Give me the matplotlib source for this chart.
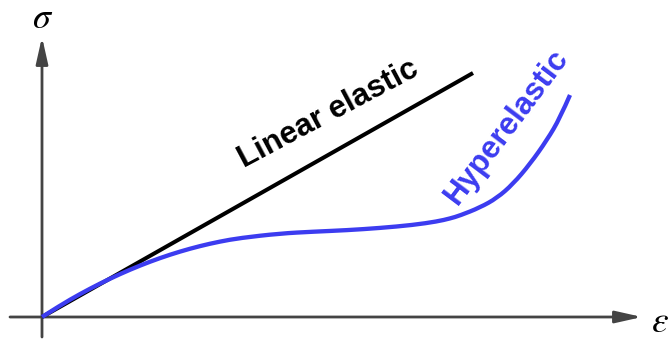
import matplotlib
matplotlib.use("Agg")
import matplotlib.pyplot as plt
from matplotlib.path import Path
from matplotlib.patches import PathPatch

# strain / stress values (arbitrary units)
linear_strain = [0, 431]
linear_stress = [0, 244]

hyper_strain = [0, 18, 38, 58, 78, 98, 118, 138, 158, 178, 198, 238, 271, 305,
                338, 371, 395, 408, 418, 438, 455, 471, 488, 505, 518, 528]
hyper_stress = [0, 11.5, 23, 33.5, 43, 51.5, 59, 65.5, 71, 75.5, 79, 83.5, 85.3, 86.8,
                89, 92, 95.5, 98.5, 101.5, 109.5, 119, 133, 153, 177, 199, 222]

AXIS = "#444444"
BLUE = "#3c3cf0"

plt.rcParams["mathtext.fontset"] = "stix"


def smooth_path(xs, ys):
    # quadratic bezier through midpoints, the read points act as control points
    pts = list(zip(xs, ys))
    verts = [pts[0]]
    codes = [Path.MOVETO]
    for i in range(1, len(pts) - 1):
        mid = ((pts[i][0] + pts[i + 1][0]) / 2, (pts[i][1] + pts[i + 1][1]) / 2)
        if i == len(pts) - 2:
            mid = pts[-1]
        verts += [pts[i], mid]
        codes += [Path.CURVE3, Path.CURVE3]
    return Path(verts, codes)


fig = plt.figure(figsize=(6.68, 3.43), dpi=100)
ax = fig.add_axes([0, 0, 1, 1])
ax.set_xlim(-42, 626)
ax.set_ylim(-26, 317)
ax.axis("off")

# axes with arrows
arrow = dict(arrowstyle="-|>,head_length=1.6,head_width=0.36", color=AXIS,
             lw=2.0, mutation_scale=10, shrinkA=0, shrinkB=0)
ax.annotate("", xy=(600, 0), xytext=(-32, 0), arrowprops=arrow)
ax.annotate("", xy=(0, 280), xytext=(0, -20), arrowprops=arrow)

ax.plot(linear_strain, linear_stress, color="black", lw=2.9,
        solid_capstyle="butt", zorder=3)
ax.add_patch(PathPatch(smooth_path(hyper_strain, hyper_stress), facecolor="none",
                       edgecolor=BLUE, lw=3.1, capstyle="butt", zorder=4))

font = dict(family="Liberation Sans", weight="bold", fontsize=22.5)
ax.text(286, 203, "Linear elastic", rotation=28, ha="center", va="center",
        rotation_mode="anchor", color="black", **font)
ax.text(465, 190, "Hyperelastic", rotation=53, ha="center", va="center",
        rotation_mode="anchor", color=BLUE, **font)

ax.text(1, 299, r"$\sigma$", ha="center", va="center", fontsize=26)
ax.text(618, -5, r"$\varepsilon$", ha="center", va="center", fontsize=27)

fig.savefig("out.png", dpi=100)
